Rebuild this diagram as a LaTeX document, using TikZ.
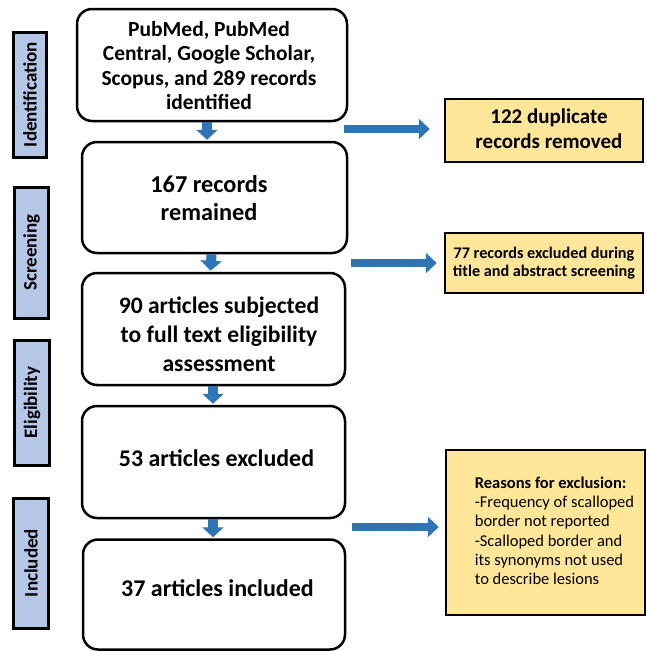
\documentclass[tikz,border=0pt]{standalone}
\usepackage{fontspec}
\setmainfont{Carlito}
\usetikzlibrary{arrows.meta,calc}
\definecolor{arrowblue}{HTML}{2E75B6}
\definecolor{noteyellow}{HTML}{FFE699}
\definecolor{phaseblue}{HTML}{B4C7E7}
\begin{document}
\begin{tikzpicture}[x=1pt,y=-1pt,
  mainbox/.style={draw=black, line width=2.5pt, rounded corners=15pt, fill=white, inner sep=0pt},
  boxtext/.style={align=center, inner sep=0pt},
  notebox/.style={draw=black, line width=2.5pt, fill=noteyellow, align=center, inner sep=2pt},
  phase/.style={draw=black, line width=3pt, fill=phaseblue, rotate=90, inner sep=0pt, font=\fontsize{19}{21}\selectfont\bfseries},
  downarrow/.style={draw=arrowblue, line width=10pt, -{Triangle[length=10pt,width=21pt]}, shorten >=1pt},
  sidearrow/.style={draw=arrowblue, line width=8pt, -{Triangle[length=11pt,width=20pt]}}
]
\useasboundingbox (0,0) rectangle (646,651);

% main column boxes
\node[mainbox, minimum width=270pt, minimum height=112pt] (b1) at (212,65) {};
\node[mainbox, minimum width=265pt, minimum height=111pt] (b2) at (214.5,197.5) {};
\node[mainbox, minimum width=263pt, minimum height=112pt] (b3) at (213.5,329) {};
\node[mainbox, minimum width=263pt, minimum height=112pt] (b4) at (213.5,462) {};
\node[mainbox, minimum width=262pt, minimum height=110pt] (b5) at (214,594.5) {};

% main column texts
\node[boxtext, font=\fontsize{21.5}{24.3}\selectfont\bfseries] (t1) at ($(b1.center)+(-3,0.5)$)
  {PubMed, PubMed\\Central, Google Scholar,\\Scopus, and 289 records\\identified};
\node[boxtext, font=\fontsize{24.3}{27.5}\selectfont\bfseries] (t2) at ($(b2.center)+(-5.5,0.5)$)
  {167 records\\remained};
\node[boxtext, font=\fontsize{23.6}{29}\selectfont\bfseries] (t3) at ($(b3.center)+(5.5,5)$)
  {90 articles subjected\\to full text eligibility\\assessment};
\node[boxtext, font=\fontsize{23.9}{25}\selectfont\bfseries] (t4) at ($(b4.center)+(3,-4)$)
  {53 articles excluded};
\node[boxtext, font=\fontsize{24}{25}\selectfont\bfseries] (t5) at ($(b5.center)+(3.5,-6.5)$)
  {37 articles included};

% phase labels
\node[phase, minimum width=125pt, minimum height=33pt] (p1) at (30,94.5) {Identification};
\node[phase, minimum width=131pt, minimum height=34pt] (p2) at (31.5,252.5) {Screening};
\node[phase, minimum width=125pt, minimum height=35pt] (p3) at (32,402.5) {Eligibility};
\node[phase, minimum width=130pt, minimum height=35pt] (p4) at (31,563) {Included};

% right notes
\node[notebox, minimum width=198pt, minimum height=63pt, font=\fontsize{21}{25}\selectfont\bfseries] (n1) at (544,130.5)
  {\begin{tabular}{@{\hspace{10pt}}c@{}}122 duplicate\\records removed\end{tabular}};
\node[notebox, minimum width=198pt, minimum height=60pt, font=\fontsize{16.2}{18}\selectfont\bfseries] (n2) at (544,263)
  {77 records excluded during\\title and abstract screening};
\node[notebox, minimum width=199pt, minimum height=165pt, font=\fontsize{16.5}{19.3}\selectfont] (n3) at (545.5,532.5)
  {\begin{tabular}{@{\hspace{18pt}}l@{}}
   \textbf{Reasons for exclusion:}\\-Frequency of scalloped\\border not reported\\-Scalloped border and\\its synonyms not used\\to describe lesions
   \end{tabular}};

% down arrows
\draw[downarrow] ($(b1.south)+(-5,0)$) -- ($(b2.north)+(-7.5,0)$);
\draw[downarrow] ($(b2.south)+(-3,0)$) -- ($(b3.north)+(-3,0)$);
\draw[downarrow] ($(b3.south)+(-0.5,0)$) -- ($(b4.north)+(-0.5,0)$);
\draw[downarrow] ($(b4.south)+(-0.5,0)$) -- ($(b5.north)+(-1,0)$);

% side arrows
\coordinate (s1) at (344,129);
\coordinate (s2) at (351,263);
\coordinate (s3) at (352,527);
\draw[sidearrow] (s1) -- ($(n1.west |- s1)+(-14,0)$);
\draw[sidearrow] (s2) -- ($(n2.west |- s2)+(-7,0)$);
\draw[sidearrow] (s3) -- ($(n3.west |- s3)+(-6,0)$);
\end{tikzpicture}
\end{document}
